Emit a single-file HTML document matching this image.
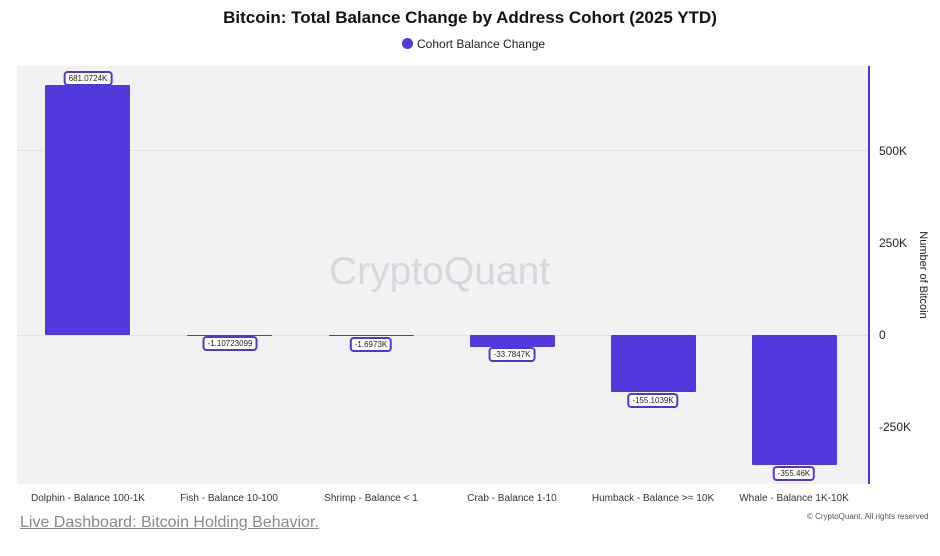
<!DOCTYPE html><html><head><style>
body{margin:0;background:#fff;font-family:"Liberation Sans",sans-serif;}
.lab{position:absolute;background:#fff;border:2px solid #4a3bd0;border-radius:4px;font-size:8px;padding:1px 3px;transform:translateX(-50%);color:#222;white-space:nowrap}
.bar{position:absolute;background:#5139dc;width:85px;border-radius:1px}
.yt{position:absolute;left:879px;font-size:12px;color:#222}
.xt{position:absolute;top:493px;font-size:10px;color:#333;transform:translateX(-50%);white-space:nowrap}
</style></head><body>
<div style="position:relative;width:940px;height:556px;overflow:hidden">
<div style="position:absolute;top:8px;width:940px;text-align:center;font-size:17px;font-weight:bold;color:#111">Bitcoin: Total Balance Change by Address Cohort (2025 YTD)</div>
<div style="position:absolute;top:37px;left:402px;font-size:12px;color:#222"><span style="display:inline-block;width:11px;height:11px;border-radius:50%;background:#5139dc;vertical-align:-1px;margin-right:4px"></span>Cohort Balance Change</div>
<div style="position:absolute;left:17px;top:66px;width:852px;height:418px;background:#f2f2f4"></div>
<div style="position:absolute;left:17px;top:150px;width:852px;height:1px;background:#e2e2e6"></div>
<div style="position:absolute;left:17px;top:335px;width:852px;height:1px;background:#e2e2e6"></div>
<div style="position:absolute;left:329px;top:250px;font-size:39px;color:#d8d8dc">CryptoQuant</div>
<div style="position:absolute;left:868px;top:66px;width:2px;height:418px;background:#4a3bd0"></div>
<div class="yt" style="top:144px">500K</div>
<div class="yt" style="top:236px">250K</div>
<div class="yt" style="top:328px">0</div>
<div class="yt" style="top:420px">-250K</div>
<div style="position:absolute;left:923px;top:275px;font-size:11px;color:#222;transform:translate(-50%,-50%) rotate(90deg);white-space:nowrap">Number of Bitcoin</div>
<div class="bar" style="left:45px;top:85px;height:250px"></div>
<div class="bar" style="left:187px;top:335px;height:1px"></div>
<div class="bar" style="left:329px;top:335px;height:1px"></div>
<div class="bar" style="left:470px;top:335px;height:12px"></div>
<div class="bar" style="left:611px;top:335px;height:57px"></div>
<div class="bar" style="left:752px;top:335px;height:130px"></div>
<div class="lab" style="left:88px;top:71px">681.0724K</div>
<div class="lab" style="left:230px;top:336px">-1.10723099</div>
<div class="lab" style="left:371px;top:337px">-1.6973K</div>
<div class="lab" style="left:512px;top:347px">-33.7847K</div>
<div class="lab" style="left:653px;top:393px">-155.1039K</div>
<div class="lab" style="left:794px;top:466px">-355.46K</div>
<div class="xt" style="left:88px">Dolphin - Balance 100-1K</div>
<div class="xt" style="left:229px">Fish - Balance 10-100</div>
<div class="xt" style="left:371px">Shrimp - Balance &lt; 1</div>
<div class="xt" style="left:512px">Crab - Balance 1-10</div>
<div class="xt" style="left:653px">Humback - Balance &gt;= 10K</div>
<div class="xt" style="left:794px">Whale - Balance 1K-10K</div>
<div style="position:absolute;left:807px;top:512px;font-size:8px;color:#555">© CryptoQuant. All rights reserved</div>
<div style="position:absolute;left:20px;top:514px;font-size:16px;color:#888;text-decoration:underline">Live Dashboard: Bitcoin Holding Behavior.</div>
</div></body></html>
